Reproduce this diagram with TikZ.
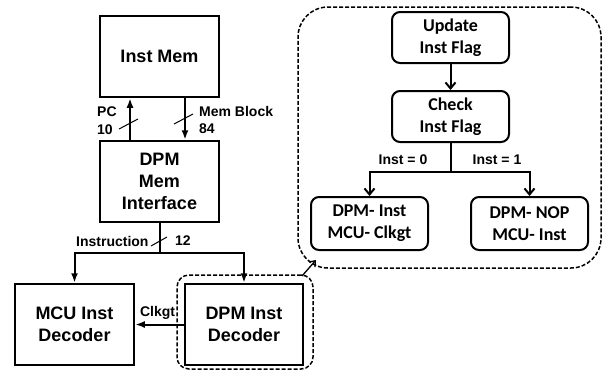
\documentclass[tikz,border=0pt]{standalone}
\usepackage{fontspec}
\setmainfont{Liberation Sans}
\newfontfamily\calib{Carlito}
\usetikzlibrary{arrows.meta}
\tikzset{
  blk/.style={draw, line width=2.5bp, minimum width=119bp, minimum height=81bp,
    align=center, inner sep=0pt, font=\bfseries\fontsize{18bp}{22bp}\selectfont},
  flow/.style={draw, line width=2bp, rounded corners=8bp, minimum width=117bp,
    minimum height=51bp, align=center, inner sep=0pt,
    font=\calib\bfseries\fontsize{18bp}{22bp}\selectfont},
  dashbox/.style={draw, line width=1.5bp, dash pattern=on 4bp off 2bp, inner sep=0pt},
  arr/.style={line width=2bp, -{Latex[length=9.5bp,width=7bp]}},
  openarr/.style={line width=2bp, -{Straight Barb[length=6bp,width=10bp]}},
  slash/.style={line width=1bp},
  lbl/.style={inner sep=0pt, font=\bfseries\fontsize{14bp}{17bp}\selectfont},
}
\begin{document}
\begin{tikzpicture}[x=1bp,y=-1bp]
\useasboundingbox (0,0) rectangle (602,370);

% processor-side blocks
\node[blk] (instmem) at (159.5,56.5) {Inst Mem};
\node[blk] (dpmmem) at (159.5,181.5) {DPM\\Mem\\Interface};
\node[blk] (mcu) at (74.5,324.5) {MCU Inst\\Decoder};
\node[blk, minimum width=118bp] (dpmdec) at (244,324.5) {DPM Inst\\Decoder};

% PC and memory block buses
\draw[arr] ([xshift=-29.5bp]dpmmem.north) -- ([xshift=-29.5bp]instmem.south);
\draw[arr] ([xshift=25.5bp]instmem.south) -- ([xshift=25.5bp]dpmmem.north);
\draw[slash] (119,129) -- (138,119);
\draw[slash] (174,124) -- (193,114);
\node[lbl, anchor=west] (pc) at (97,112) {PC};
\node[lbl, anchor=west] (pcw) at (97,130) {10};
\node[lbl, anchor=west] (mb) at (199,111) {Mem Block};
\node[lbl, anchor=west] (mbw) at (199,129) {84};

% instruction bus to both decoders
\coordinate (junction) at (159.5,253);
\draw[line width=2bp] (dpmmem.south) -- (junction);
\draw[arr] (junction) -| (mcu.north);
\draw[arr] (junction) -| (dpmdec.north);
\draw[slash] (151,246) -- (167,237);
\node[lbl, anchor=west] (instr) at (76,241) {Instruction};
\node[lbl, anchor=west] (instrw) at (175,241) {12};

% clock gate from DPM decoder to MCU decoder
\draw[arr] (dpmdec.west) -- (mcu.east);
\node[lbl] (clk) at (157.5,313) {Clkgt};

% detail of the DPM instruction decoder
\node[dashbox, rounded corners=12bp, minimum width=136bp, minimum height=94bp] (sel) at (245,322) {};
\node[dashbox, rounded corners=30bp, minimum width=303bp, minimum height=261bp] (detail) at (449.5,137.5) {};
\coordinate (selc) at (302,276);
\coordinate (detc) at (316,260);
\draw[line width=1.3bp, -{Straight Barb[length=5bp,width=8bp]}] (selc) -- (detc);

\node[flow] (update) at (450.5,37.5) {Update\\Inst Flag};
\node[flow] (check) at (450.5,116.5) {Check\\Inst Flag};
\node[flow, minimum height=53bp] (inst0) at (369.5,223.5) {DPM- Inst\\MCU- Clkgt};
\node[flow, minimum height=53bp] (inst1) at (529.5,223.5) {DPM- NOP\\MCU- Inst};

\draw[openarr] (update) -- (check);
\coordinate (fork) at (450.5,172);
\draw[line width=2bp] (check.south) -- (fork);
\draw[openarr] (fork) -| (inst0.north);
\draw[openarr] (fork) -| (inst1.north);
\node[lbl] (c0) at (403,160) {Inst = 0};
\node[lbl] (c1) at (497,160) {Inst = 1};
\end{tikzpicture}
\end{document}
